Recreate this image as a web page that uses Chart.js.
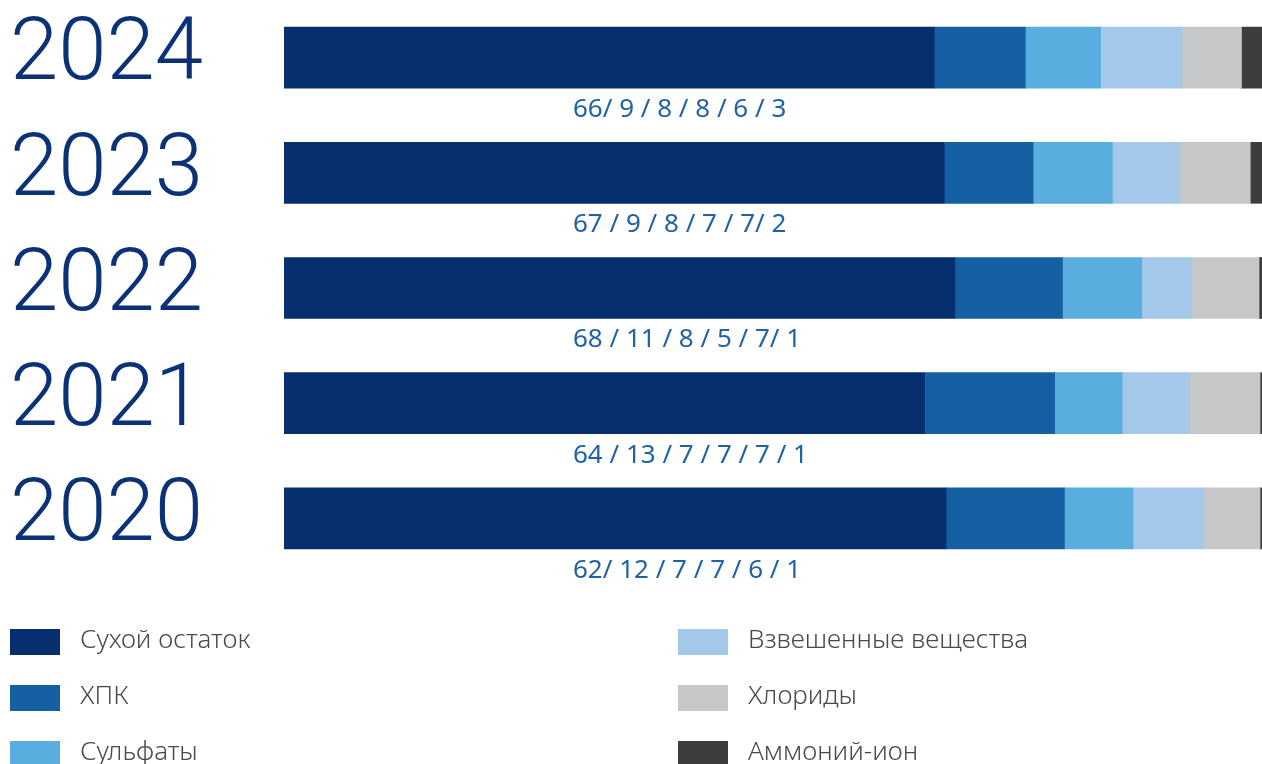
<!DOCTYPE html>
<html>
<head>
<meta charset="utf-8">
<script src="https://cdn.jsdelivr.net/npm/chart.js@4.4.1/dist/chart.umd.min.js"></script>
<style>
	html, body { margin: 0; padding: 0; background: #fff; }
	#wrap { position: relative; width: 1262px; height: 764px; }
</style>
</head>
<body>
<div id="wrap"><canvas id="stack-graph"></canvas></div>
<script>
	// Years (categories)
	var years = ["2024", "2023", "2022", "2021", "2020"];

	// Series names and colours
	var seriesNames = ["Сухой остаток", "ХПК", "Сульфаты", "Взвешенные вещества", "Хлориды", "Аммоний-ион"];
	var seriesColors = ["#062f6f", "#1560a2", "#5aaddf", "#a3c8ea", "#c6c7c9", "#3d3d3d"];

	// Shares, % (as drawn in the bars)
	var dryResidue = [66.5, 67.5, 68.6, 65.5, 67.7];
	var cod        = [9.3, 9.1, 11.0, 13.3, 12.1];
	var sulfates   = [7.7, 8.1, 8.1, 6.9, 7.0];
	var suspended  = [8.3, 6.9, 5.1, 6.9, 7.2];
	var chlorides  = [6.1, 7.2, 6.9, 7.2, 5.8];
	var ammonium   = [2.1, 1.2, 0.3, 0.3, 0.3];

	// Text under each bar
	var shareLabels = [
		"66/ 9 / 8 / 8 / 6 / 3",
		"67 / 9 / 8 / 7 / 7/ 2",
		"68 / 11 / 8 / 5 / 7/ 1",
		"64 / 13 / 7 / 7 / 7 / 1",
		"62/ 12 / 7 / 7 / 6 / 1"
	];

	var seriesData = [dryResidue, cod, sulfates, suspended, chlorides, ammonium];

	var datasets = seriesNames.map(function(name, i) {
		return {
			label: name,
			data: seriesData[i],
			backgroundColor: seriesColors[i],
			borderWidth: 0,
			barThickness: 61
		};
	});

	// labels under the bars
	var shareLabelPlugin = {
		id: 'shareLabels',
		afterDatasetsDraw: function(chart) {
			var ctx = chart.ctx;
			var yScale = chart.scales.y;
			ctx.save();
			ctx.font = '400 26px "Noto Sans"';
			ctx.fillStyle = '#1f62a5';
			ctx.textAlign = 'left';
			ctx.textBaseline = 'middle';
			shareLabels.forEach(function(txt, i) {
				ctx.fillText(txt, 573, yScale.getPixelForValue(i) + 52);
			});
			ctx.restore();
		}
	};

	// two-column legend under the chart
	var columnLegendPlugin = {
		id: 'columnLegend',
		afterDraw: function(chart) {
			var ctx = chart.ctx;
			ctx.save();
			ctx.font = '300 26px "Noto Sans"';
			ctx.textAlign = 'left';
			ctx.textBaseline = 'middle';
			chart.data.datasets.forEach(function(ds, i) {
				var col = Math.floor(i / 3);
				var row = i % 3;
				var x = col === 0 ? 10 : 678;
				var y = 629 + row * 56;
				ctx.fillStyle = ds.backgroundColor;
				ctx.fillRect(x, y, 50, 26);
				ctx.fillStyle = '#4a4a4a';
				ctx.fillText(ds.label, x + 70, y + 12);
			});
			ctx.restore();
		}
	};

	var ctx = document.getElementById("stack-graph").getContext("2d");
	var stackChart = new Chart(ctx, {
		type: 'bar',
		data: {
			labels: years,
			datasets: datasets
		},
		plugins: [shareLabelPlugin, columnLegendPlugin],
		options: {
			indexAxis: 'y',
			responsive: true,
			maintainAspectRatio: false,
			animation: false,
			layout: {
				padding: { left: 10, top: 0, right: 0, bottom: 188 }
			},
			plugins: {
				legend: { display: false },
				tooltip: { enabled: false }
			},
			scales: {
				x: {
					stacked: true,
					display: false,
					min: 0,
					max: 100
				},
				y: {
					stacked: true,
					grid: { display: false },
					border: { display: false },
					ticks: {
						crossAlign: 'far',
						color: '#0b3276',
						font: { family: 'Roboto', size: 87, weight: 300 }
					},
					afterFit: function(scale) {
						scale.width = 274;
						scale.paddingTop = 0;
						scale.paddingBottom = 0;
					}
				}
			}
		}
	});
</script>
</body>
</html>
